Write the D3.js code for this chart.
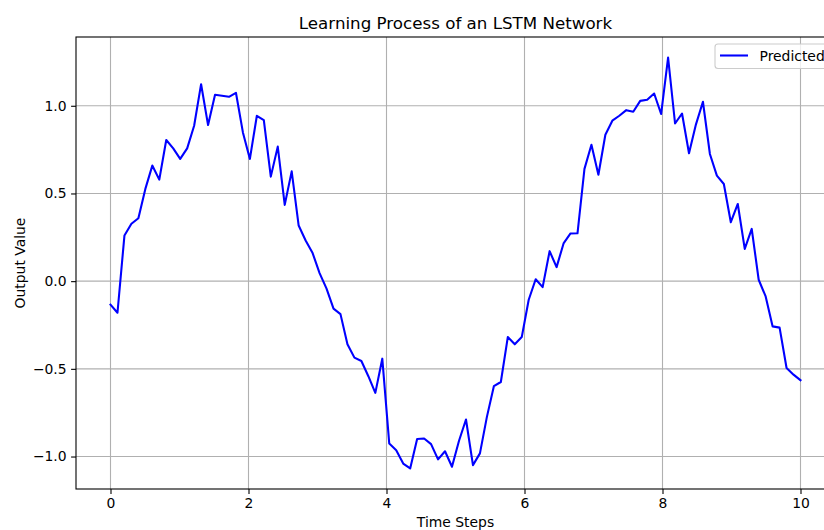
<!DOCTYPE html>
<html>
<head>
<meta charset="utf-8">
<script src="https://cdn.jsdelivr.net/npm/d3@7"></script>
<style>
  html, body { margin: 0; padding: 0; background: #fff; overflow: hidden; }
  svg { display: block; font-family: "DejaVu Sans", sans-serif; }
</style>
</head>
<body>
<svg id="chart" width="824" height="530"></svg>
<script>
const timeSteps = [0, 0.101, 0.202, 0.303, 0.404, 0.505, 0.606, 0.707, 0.808, 0.909,
  1.010, 1.111, 1.212, 1.313, 1.414, 1.515, 1.616, 1.717, 1.818, 1.919,
  2.020, 2.121, 2.222, 2.323, 2.424, 2.525, 2.626, 2.727, 2.828, 2.929,
  3.030, 3.131, 3.232, 3.333, 3.434, 3.535, 3.636, 3.737, 3.838, 3.939,
  4.040, 4.141, 4.242, 4.343, 4.444, 4.545, 4.646, 4.747, 4.848, 4.949,
  5.051, 5.152, 5.253, 5.354, 5.455, 5.556, 5.657, 5.758, 5.859, 5.960,
  6.061, 6.162, 6.263, 6.364, 6.465, 6.566, 6.667, 6.768, 6.869, 6.970,
  7.071, 7.172, 7.273, 7.374, 7.475, 7.576, 7.677, 7.778, 7.879, 7.980,
  8.081, 8.182, 8.283, 8.384, 8.485, 8.586, 8.687, 8.788, 8.889, 8.990,
  9.091, 9.192, 9.293, 9.394, 9.495, 9.596, 9.697, 9.798, 9.899, 10.000];

const predicted = [-0.134, -0.18, 0.26, 0.327, 0.359, 0.526, 0.659, 0.579, 0.805, 0.757,
  0.697, 0.757, 0.886, 1.123, 0.89, 1.063, 1.057, 1.051, 1.074, 0.848,
  0.697, 0.943, 0.918, 0.596, 0.767, 0.435, 0.626, 0.317, 0.232, 0.16,
  0.046, -0.043, -0.157, -0.188, -0.36, -0.436, -0.455, -0.542, -0.637, -0.442,
  -0.926, -0.964, -1.04, -1.068, -0.90, -0.897, -0.929, -1.016, -0.97, -1.058,
  -0.91, -0.789, -1.049, -0.982, -0.774, -0.599, -0.575, -0.319, -0.36, -0.319,
  -0.106, 0.011, -0.034, 0.171, 0.08, 0.215, 0.272, 0.273, 0.64, 0.778,
  0.607, 0.835, 0.915, 0.943, 0.975, 0.966, 1.028, 1.034, 1.07, 0.953,
  1.275, 0.899, 0.956, 0.729, 0.894, 1.023, 0.725, 0.602, 0.554, 0.336,
  0.44, 0.184, 0.298, 0.008, -0.087, -0.258, -0.265, -0.495, -0.533, -0.565];

const xTicks = [0, 2, 4, 6, 8, 10];
const yTicks = [-1.0, -0.5, 0.0, 0.5, 1.0];

const titleText = "Learning Process of an LSTM Network";
const xLabel = "Time Steps";
const yLabel = "Output Value";
const seriesName = "Predicted";

(function () {
const svg = d3.select("#chart");
const mLeft = 76, mRight = 835, mTop = 37, mBottom = 489;

const xExt = d3.extent(timeSteps);
const xPad = (xExt[1] - xExt[0]) * 0.05;
const x = d3.scaleLinear().domain([xExt[0] - xPad, xExt[1] + xPad]).range([mLeft, mRight]);

const yExt = d3.extent(predicted);
const yPad = (yExt[1] - yExt[0]) * 0.05;
const y = d3.scaleLinear().domain([yExt[0] - yPad, yExt[1] + yPad]).range([mBottom, mTop]);

// grid
const grid = svg.append("g");
grid.selectAll(".gx").data(xTicks).join("line")
  .attr("x1", d => x(d)).attr("x2", d => x(d))
  .attr("y1", mTop).attr("y2", mBottom)
  .attr("stroke", "#b0b0b0").attr("stroke-width", 1.1);
grid.selectAll(".gy").data(yTicks).join("line")
  .attr("x1", mLeft).attr("x2", mRight)
  .attr("y1", d => y(d)).attr("y2", d => y(d))
  .attr("stroke", "#b0b0b0").attr("stroke-width", 1.1);

// line
const pts = timeSteps.map((t, i) => [t, predicted[i]]);
svg.append("path")
  .datum(pts)
  .attr("fill", "none")
  .attr("stroke", "#0000ff")
  .attr("stroke-width", 2.08)
  .attr("stroke-linejoin", "round")
  .attr("stroke-linecap", "square")
  .attr("d", d3.line().x(d => x(d[0])).y(d => y(d[1])));

// axes
const xAxis = d3.axisBottom(x).tickValues(xTicks).tickFormat(d3.format("d"))
  .tickSize(4.9).tickPadding(4.5);
const yAxis = d3.axisLeft(y).tickValues(yTicks).tickFormat(d3.format(".1f"))
  .tickSize(4.9).tickPadding(4.5);

const gx = svg.append("g").attr("transform", `translate(0,${mBottom})`).call(xAxis);
const gy = svg.append("g").attr("transform", `translate(${mLeft},0)`).call(yAxis);
[gx, gy].forEach(g => {
  g.select(".domain").remove();
  g.selectAll(".tick line").attr("stroke", "#000").attr("stroke-width", 1.1);
  g.selectAll(".tick text").attr("fill", "#000")
    .style("font-family", "'DejaVu Sans', sans-serif").style("font-size", "13.9px");
});

// spines
svg.append("rect")
  .attr("x", mLeft).attr("y", mTop)
  .attr("width", mRight - mLeft).attr("height", mBottom - mTop)
  .attr("fill", "none").attr("stroke", "#000").attr("stroke-width", 1.1);

// title and labels
svg.append("text")
  .attr("x", (mLeft + mRight) / 2).attr("y", 28.5)
  .attr("text-anchor", "middle")
  .style("font-size", "16.7px").attr("fill", "#000")
  .text(titleText);

svg.append("text")
  .attr("x", (mLeft + mRight) / 2).attr("y", 527)
  .attr("text-anchor", "middle")
  .style("font-size", "13.9px").attr("fill", "#000")
  .text(xLabel);

svg.append("text")
  .attr("transform", `translate(24.5,${(mTop + mBottom) / 2}) rotate(-90)`)
  .attr("text-anchor", "middle")
  .style("font-size", "13.9px").attr("fill", "#000")
  .text(yLabel);

// legend
const lg = svg.append("g");
lg.append("rect")
  .attr("x", 715).attr("y", 44).attr("width", 113).attr("height", 24.5)
  .attr("rx", 3).attr("ry", 3)
  .attr("fill", "#fff").attr("fill-opacity", 0.8)
  .attr("stroke", "#cccccc").attr("stroke-width", 1.1);
lg.append("line")
  .attr("x1", 720).attr("x2", 748).attr("y1", 55.5).attr("y2", 55.5)
  .attr("stroke", "#0000ff").attr("stroke-width", 2.08);
lg.append("text")
  .attr("x", 759.5).attr("y", 60.5)
  .style("font-size", "13.9px").attr("fill", "#000")
  .text(seriesName);
})();
</script>
</body>
</html>
